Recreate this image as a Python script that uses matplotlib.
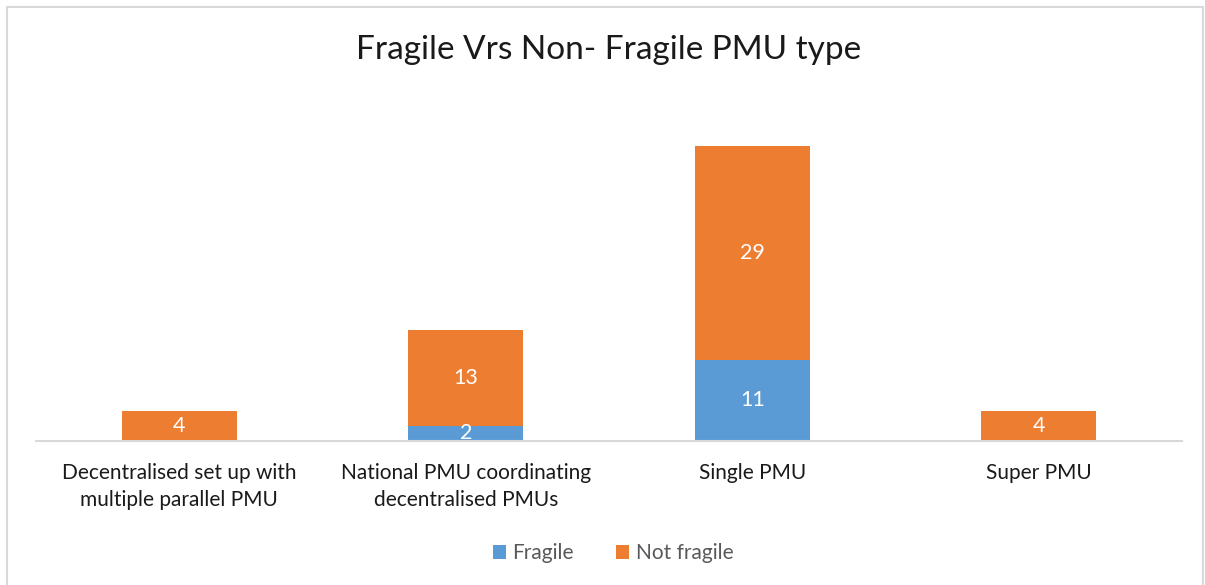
import matplotlib.pyplot as plt
from matplotlib.patches import Rectangle

plt.rcParams['font.family'] = ['Lato', 'DejaVu Sans']

categories = ['Decentralised set up with\nmultiple parallel PMU',
              'National PMU coordinating\ndecentralised PMUs',
              'Single PMU',
              'Super PMU']
fragile = [0, 2, 11, 0]
not_fragile = [4, 13, 29, 4]

blue = '#5B9BD5'
orange = '#ED7D31'

W, H = 1205, 585
fig = plt.figure(figsize=(W / 100, H / 100), dpi=100)

# chart area outline (runs off the bottom edge)
fig.patches.append(Rectangle((7 / W, -0.1), (1203 - 7) / W, 1.1 - 7 / H,
                             transform=fig.transFigure, fill=False,
                             edgecolor='#d9d9d9', linewidth=1.5))

ax = fig.add_axes([36 / W, (H - 440.5) / H, (1182 - 36) / W, (440.5 - 146) / H])
x = range(len(categories))
b1 = ax.bar(x, fragile, width=0.4, color=blue, label='Fragile')
b2 = ax.bar(x, not_fragile, width=0.4, bottom=fragile, color=orange, label='Not fragile')

for bars, vals in ((b1, fragile), (b2, not_fragile)):
    for rect, v in zip(bars, vals):
        if v == 0:
            continue
        ax.text(rect.get_x() + rect.get_width() / 2, rect.get_y() + v / 2, str(v),
                ha='center', va='center', color='white', fontsize=15.5)

ax.set_xlim(-0.5, 3.5)
ax.set_ylim(0, 40)
ax.set_yticks([])
ax.set_xticks(list(x))
ax.set_xticklabels(categories, fontsize=15, color='#1a1a1a', linespacing=1.45)
ax.tick_params(axis='x', length=0, pad=16)
for s in ['top', 'right', 'left']:
    ax.spines[s].set_visible(False)
ax.spines['bottom'].set_color('#d9d9d9')
ax.spines['bottom'].set_linewidth(1.5)

fig.text(609 / W, 1 - 50 / H, 'Fragile Vrs Non- Fragile PMU type',
         ha='center', va='center', fontsize=24, color='#1a1a1a')

fig.legend(handles=[b1, b2], loc='center', bbox_to_anchor=(613 / W, 1 - 553 / H),
           ncol=2, frameon=False, fontsize=15, labelcolor='#595959',
           handlelength=0.65, handleheight=0.65, handletextpad=0.3, columnspacing=2.0)

fig.savefig('out.png', dpi=100)
